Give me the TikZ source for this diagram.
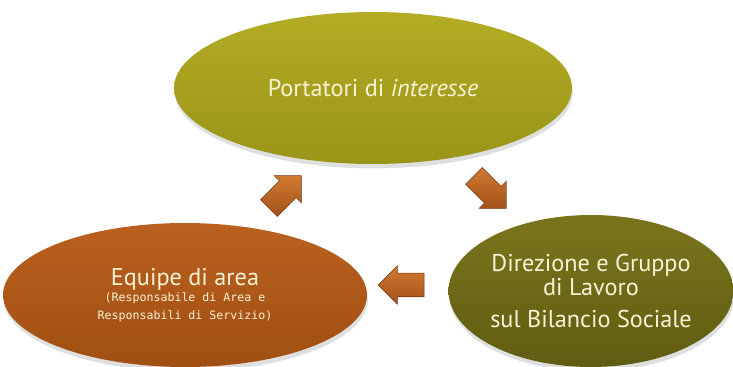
\documentclass[tikz,border=0pt]{standalone}
\usepackage{fontspec}
\setmainfont{PT Sans}
\newfontfamily\notefont{DejaVu Sans Mono}
\usetikzlibrary{shapes.geometric,shapes.arrows,shadows}
\definecolor{cream}{HTML}{F8F3D6}
\definecolor{oliveLight}{HTML}{B3AC24}
\definecolor{oliveDark}{HTML}{9A9418}
\definecolor{mossLight}{HTML}{7A751C}
\definecolor{mossDark}{HTML}{605C12}
\definecolor{rustLight}{HTML}{BA6120}
\definecolor{rustDark}{HTML}{A04E12}
\definecolor{arrowLight}{HTML}{D07A30}
\definecolor{arrowDark}{HTML}{A3501A}
\tikzset{
  bubble/.style={ellipse, inner sep=0pt, align=center, text=cream,
    font=\fontsize{13.8}{15}\selectfont,
    drop shadow={opacity=0.25, shadow xshift=0.5pt, shadow yshift=-2.5pt}},
  turn/.style={single arrow, single arrow head extend=0.15cm,
    minimum height=0.92cm, inner xsep=0pt, inner ysep=0.23cm,
    top color=arrowLight, bottom color=arrowDark,
    draw=arrowDark!70!black, line width=0.3pt}
}
\begin{document}
\begin{tikzpicture}[x=0.02cm,y=-0.02cm]
\useasboundingbox (0,0) rectangle (733,367);
% the three groups
\node[bubble, minimum width=7.96cm, minimum height=3.04cm,
  top color=oliveLight, bottom color=oliveDark] (stake) at (373,88)
  {Portatori di \textit{interesse}};
\node[bubble, minimum width=5.64cm, minimum height=3.04cm,
  top color=mossLight, bottom color=mossDark] (board) at (591,291)
  {Direzione e Gruppo\\[-1pt] di Lavoro\\[3pt] sul Bilancio Sociale};
\node[bubble, minimum width=7.28cm, minimum height=2.88cm,
  top color=rustLight, bottom color=rustDark] (team) at (185,295)
  {Equipe di area\\[-6pt]
   {\notefont\fontsize{6.6}{8}\selectfont (Responsabile di Area e}\\[-5pt]
   {\notefont\fontsize{6.6}{8}\selectfont Responsabili di Servizio)}};
% cycle arrows
\node[turn, rotate=45] (toStake) at (281,196) {};
\node[turn, rotate=-45] (toBoard) at (486,188) {};
\node[turn, rotate=180] (toTeam) at (407,285) {};
\end{tikzpicture}
\end{document}
